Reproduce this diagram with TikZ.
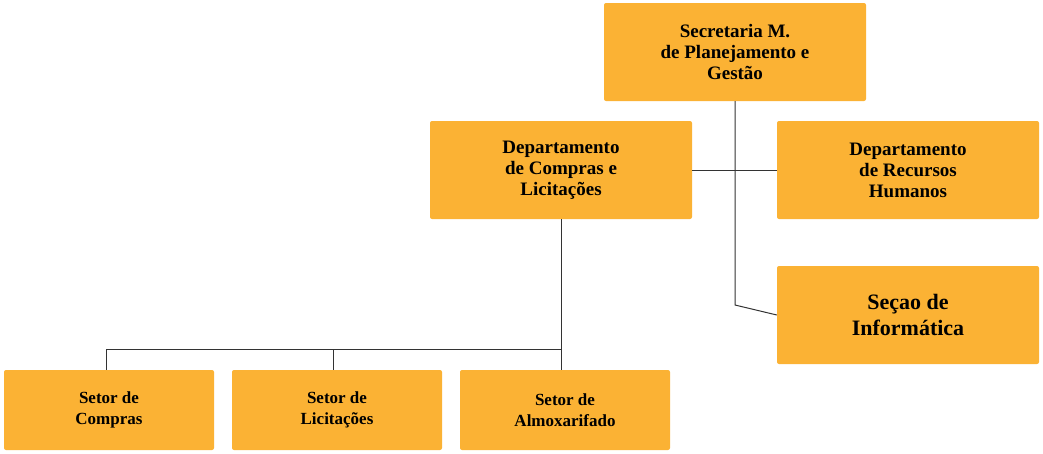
\documentclass[tikz,border=0pt]{standalone}
\usepackage{fontspec}
\setmainfont{Liberation Serif}
\begin{document}
\begin{tikzpicture}[x=1pt,y=-1pt,
  box/.style={fill=orange!80!yellow!90!white, fill={rgb,255:red,251;green,178;blue,52}, rounded corners=2pt, align=center, font=\bfseries\fontsize{19}{21}\selectfont, inner sep=0pt},
  ln/.style={line width=1pt, black!80}]
\useasboundingbox (0,0) rectangle (1043,453);
\node[box, minimum width=262, minimum height=98] (sec) at (735,52) {Secretaria M.\\de Planejamento e\\Gestão};
\node[box, minimum width=262, minimum height=98] (dc) at (561,170) {Departamento\\de Compras e\\Licitações};
\node[box, minimum width=262, minimum height=98] (rh) at (908,170) {Departamento\\de Recursos\\Humanos};
\node[box, minimum width=262, minimum height=98, font=\bfseries\fontsize{22}{26}\selectfont] (si) at (908,315) {Seçao de\\Informática};
\node[box, minimum width=210, minimum height=80, font=\bfseries\fontsize{17}{21}\selectfont] (s1) at (109,410) {Setor de\\Compras};
\node[box, minimum width=210, minimum height=80, font=\bfseries\fontsize{17}{21}\selectfont] (s2) at (337,410) {Setor de\\Licitações};
\node[box, minimum width=210, minimum height=80, font=\bfseries\fontsize{17}{21}\selectfont] (s3) at (565,410) {Setor de\\Almoxarifado};
\coordinate (bus) at (561,349);
\draw[ln] (sec.south) -- (735,305) -- (si.west);
\draw[ln] (dc.east) -- (rh.west);
\draw[ln] (dc.south) -- (bus);
\draw[ln] (106,349) -- (bus);
\draw[ln] (106,349) -- (s1.north -| 106,0);
\draw[ln] (333,349) -- (s2.north -| 333,0);
\draw[ln] (bus) -- (s3.north -| 561,0);
\end{tikzpicture}
\end{document}
